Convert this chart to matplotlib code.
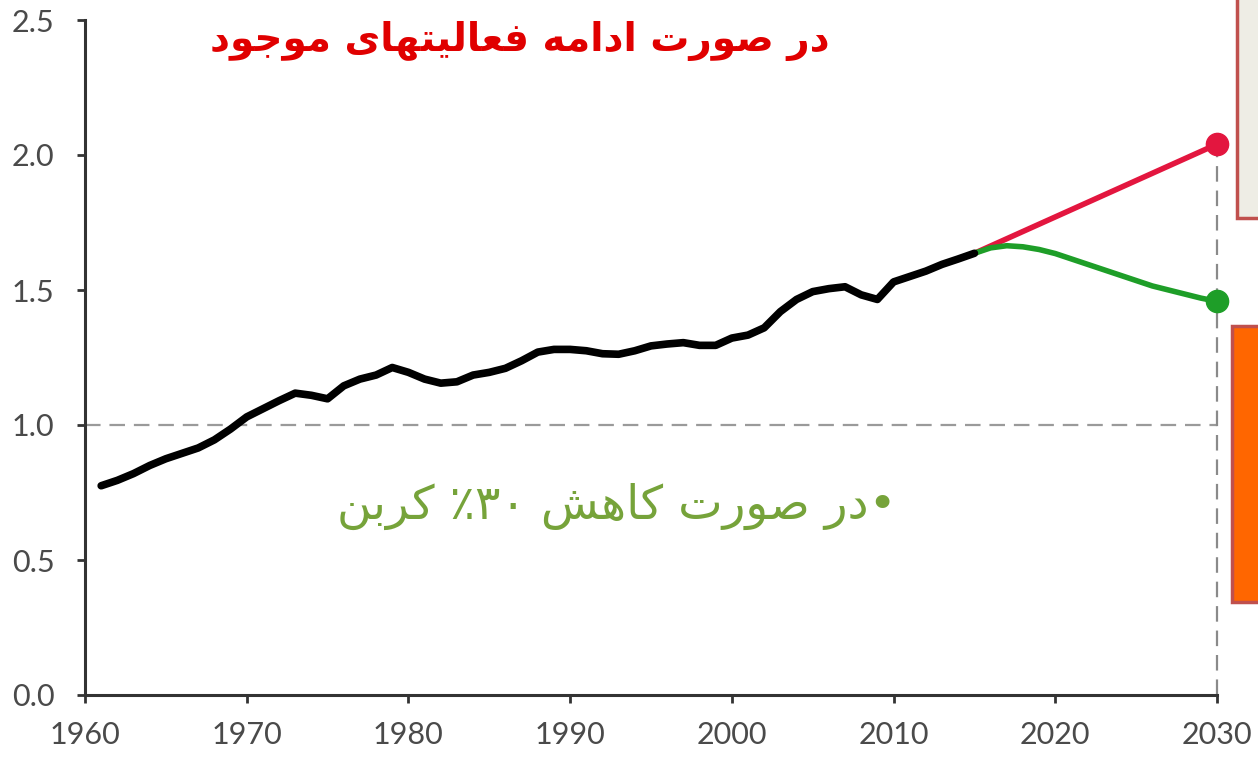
import matplotlib
matplotlib.use('Agg')
import matplotlib.pyplot as plt
from matplotlib.patches import Rectangle

# ---------------- data ----------------
years_hist = list(range(1961, 2016))
emissions_hist = [0.775, 0.795, 0.82, 0.85, 0.875, 0.895, 0.915, 0.945, 0.985, 1.03,
                  1.06, 1.09, 1.118, 1.11, 1.097, 1.145, 1.17, 1.185, 1.213, 1.195,
                  1.17, 1.155, 1.16, 1.185, 1.195, 1.21, 1.238, 1.27, 1.28, 1.28,
                  1.275, 1.264, 1.262, 1.275, 1.293, 1.3, 1.305, 1.295, 1.295, 1.322,
                  1.333, 1.36, 1.42, 1.465, 1.494, 1.505, 1.512, 1.482, 1.465, 1.53,
                  1.55, 1.57, 1.595, 1.615, 1.636]
years_bau = [2015, 2030]
emissions_bau = [1.636, 2.04]
years_cut = list(range(2015, 2031))
emissions_cut = [1.636, 1.656, 1.664, 1.66, 1.65, 1.635, 1.615, 1.595, 1.575, 1.555,
                 1.535, 1.515, 1.5, 1.485, 1.47, 1.458]
reference_level = 1.0
yticks = [0.0, 0.5, 1.0, 1.5, 2.0, 2.5]
ytick_labels = ['0.0', '0.5', '1.0', '1.5', '2.0', '2.5']
xticks = [1960, 1970, 1980, 1990, 2000, 2010, 2020, 2030]
xtick_labels = ['1960', '1970', '1980', '1990', '2000', '2010', '2020', '2030']
label_bau = "در صورت ادامه فعالیتهای موجود"
label_cut = "•در صورت کاهش ۳۰٪ کربن"

# ---------------- minimal Persian shaping (presentation forms) ----------------
FORMS = {  # isolated, final, initial, medial
    '\u0627': ('\uFE8D', '\uFE8E', None, None),
    '\u062F': ('\uFEA9', '\uFEAA', None, None),
    '\u0631': ('\uFEAD', '\uFEAE', None, None),
    '\u0648': ('\uFEED', '\uFEEE', None, None),
    '\u0628': ('\uFE8F', '\uFE90', '\uFE91', '\uFE92'),
    '\u062A': ('\uFE95', '\uFE96', '\uFE97', '\uFE98'),
    '\u062C': ('\uFE9D', '\uFE9E', '\uFE9F', '\uFEA0'),
    '\u0634': ('\uFEB5', '\uFEB6', '\uFEB7', '\uFEB8'),
    '\u0635': ('\uFEB9', '\uFEBA', '\uFEBB', '\uFEBC'),
    '\u0639': ('\uFEC9', '\uFECA', '\uFECB', '\uFECC'),
    '\u0641': ('\uFED1', '\uFED2', '\uFED3', '\uFED4'),
    '\u0644': ('\uFEDD', '\uFEDE', '\uFEDF', '\uFEE0'),
    '\u0645': ('\uFEE1', '\uFEE2', '\uFEE3', '\uFEE4'),
    '\u0646': ('\uFEE5', '\uFEE6', '\uFEE7', '\uFEE8'),
    '\u0647': ('\uFEE9', '\uFEEA', '\uFEEB', '\uFEEC'),
    '\u06A9': ('\uFB8E', '\uFB8F', '\uFB90', '\uFB91'),
    '\u06CC': ('\uFBFC', '\uFBFD', '\uFBFE', '\uFBFF'),
}


def shape(text):
    out = []
    n = len(text)
    for i, ch in enumerate(text):
        if ch not in FORMS:
            out.append(ch)
            continue
        prev = text[i - 1] if i > 0 else ''
        nxt = text[i + 1] if i + 1 < n else ''
        joins_prev = prev in FORMS and FORMS[prev][2] is not None
        joins_next = FORMS[ch][2] is not None and nxt in FORMS
        iso, fin, ini, med = FORMS[ch]
        if joins_prev and joins_next:
            out.append(med)
        elif joins_prev:
            out.append(fin)
        elif joins_next:
            out.append(ini)
        else:
            out.append(iso)
    # visual order: reverse, keeping digit runs left-to-right
    tokens = []
    for ch in out:
        if ch.isdigit() and tokens and tokens[-1][0].isdigit():
            tokens[-1] += ch
        else:
            tokens.append(ch)
    return ''.join(reversed(tokens))


# ---------------- figure ----------------
W, H = 1258, 758
fig = plt.figure(figsize=(W / 100, H / 100), dpi=100)
fig.patch.set_facecolor('white')
ax = fig.add_axes([85 / W, 63 / H, (1217 - 85) / W, 675 / H])
ax.set_xlim(1960, 2030)
ax.set_ylim(0, 2.5)

dash = (0, (7, 4))
ax.plot([1960, 2030], [reference_level, reference_level], color='#9a9a9a',
        lw=1.6, linestyle=dash, zorder=1)
ax.plot([2030, 2030], [0, emissions_bau[-1]], color='#8a8a8a', lw=1.6,
        linestyle=dash, zorder=1, clip_on=False)

ax.plot(years_hist, emissions_hist, color='black', lw=5.5, solid_capstyle='round',
        solid_joinstyle='round', zorder=3)
ax.plot(years_bau, emissions_bau, color='#E3163F', lw=4, solid_capstyle='round', zorder=2)
ax.plot(years_cut, emissions_cut, color='#1E9E28', lw=4, solid_capstyle='round', zorder=2)
ax.plot([years_bau[-1]], [emissions_bau[-1]], 'o', color='#E3163F', ms=16,
        clip_on=False, zorder=4)
ax.plot([years_cut[-1]], [emissions_cut[-1]], 'o', color='#1E9E28', ms=16,
        clip_on=False, zorder=4)

for s in ['top', 'right']:
    ax.spines[s].set_visible(False)
for s in ['left', 'bottom']:
    ax.spines[s].set_color('#333333')
    ax.spines[s].set_linewidth(2.2)

ax.set_xticks(xticks)
ax.set_xticklabels(xtick_labels)
ax.set_yticks(yticks)
ax.set_yticklabels(ytick_labels)
ax.tick_params(axis='both', direction='out', length=6, width=2, color='#333333',
               labelsize=22, labelcolor='#4a4a4a')
ax.tick_params(axis='x', pad=13)
ax.tick_params(axis='y', pad=16)
for lab in ax.get_xticklabels() + ax.get_yticklabels():
    lab.set_family(['Lato', 'DejaVu Sans'])

fig.text(520 / W, 1 - 41 / H, shape(label_bau), color='#E00000', fontsize=28,
         fontweight='bold', family=['DejaVu Sans'], ha='center', va='center')
fig.text(617 / W, 1 - 506 / H, shape(label_cut), color='#76A33A', fontsize=34,
         family=['DejaVu Sans'], ha='center', va='center')

# right-hand boxes (partially outside the frame)
fig.add_artist(Rectangle((1237 / W, 1 - 218 / H), 60 / W, 240 / H,
                         transform=fig.transFigure, facecolor='#EEEDE5',
                         edgecolor='#C0504D', lw=2.5, zorder=5))
fig.add_artist(Rectangle((1232 / W, 1 - 602 / H), 60 / W, 276 / H,
                         transform=fig.transFigure, facecolor='#FF6600',
                         edgecolor='#C0504D', lw=2.5, zorder=5))

fig.savefig('out.png', dpi=100)
